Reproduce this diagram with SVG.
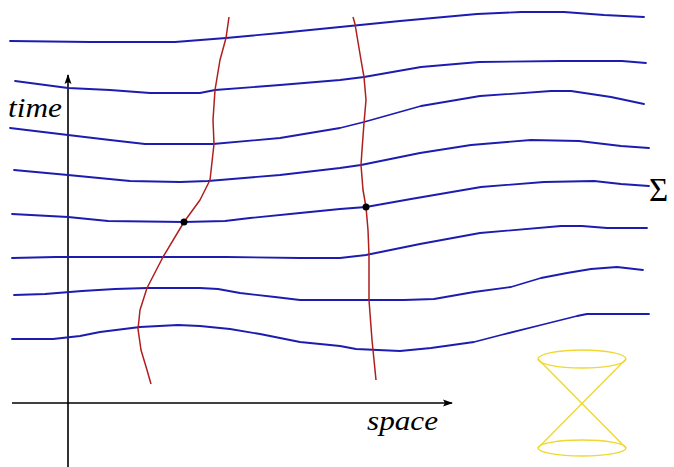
<svg xmlns="http://www.w3.org/2000/svg" width="674" height="467" viewBox="0 0 674 467">
<style>
.slice{fill:none;stroke:#1c1cb0;stroke-width:1.8;stroke-linejoin:round;stroke-linecap:round}
.world{fill:none;stroke:#b01e1e;stroke-width:1.5;stroke-linejoin:round}
.axis{fill:none;stroke:#000;stroke-width:1.6}
.lbl{font-family:"Liberation Serif","Times New Roman",serif;font-style:italic;fill:#000}
.cone{fill:none;stroke:#f0d830;stroke-width:1.4}
</style>
<defs>
<marker id="arr" viewBox="0 0 10 10" refX="9" refY="5" markerWidth="10" markerHeight="10" markerUnits="userSpaceOnUse" orient="auto">
<path d="M0,1.5 L10,5 L0,8.5 L2,5 Z" fill="#000"/>
</marker>
</defs>
<rect width="674" height="467" fill="#fff"/>
<g id="axes">
<line class="axis" x1="68" y1="467" x2="68" y2="75" marker-end="url(#arr)"/>
<line class="axis" x1="12" y1="403" x2="452" y2="403" marker-end="url(#arr)"/>
</g>
<g id="slices">
<polyline class="slice" points="10,41 90,42 175,42 226,38 280,33 340,27 400,21 477,14 521,12 564,12 604,15 644,17"/>
<polyline class="slice" points="15,81 68,88 110,90 150,93 200,93 215,90 280,85 340,80 364,77 421,67 479,62 561,61 622,61 646,63"/>
<polyline class="slice" points="10,128 68,135 110,140 145,144 213,144 280,138 340,128 364,122 421,106 480,96 551,91 571,91 611,97 644,104"/>
<polyline class="slice" points="14,170 68,175 130,181 180,182 208,181 280,175 340,168 361,165 420,153 471,145 531,140 579,141 621,146 649,148"/>
<polyline class="slice" points="12,214 68,217 108,221 184,222 225,221 250,218 300,213 340,209 366,207 411,199 481,187 544,182 594,181 621,184 649,186"/>
<polyline class="slice" points="12,258 56,257 226,257 300,258 340,258 366,255 420,244 480,233 561,226 582,226 607,228 647,228"/>
<polyline class="slice" points="14,295 45,294 82,291 115,289 147,288 200,288 218,289 240,293 275,297 300,300 340,300 404,300 434,299 474,292 511,287 541,278 567,273 591,269 617,267 643,270"/>
<polyline class="slice" points="12,339 53,339 80,336 100,332 140,327 178,325 200,326 230,329 260,334 300,342 340,346 356,349 400,351 431,348 474,342 501,335 541,325 577,316 587,314 649,314"/>
</g>
<g id="worldline1">
<polyline class="world" points="229,17 226,38 220,60 215,90 213,120 214,144 210,180 200,200 184,222 163,257 147,288 140,310 138,329 141,350 147,370 151,384"/>
<circle cx="184" cy="222" r="3.5" fill="#000"/>
</g>
<g id="worldline2">
<polyline class="world" points="353,17 355,24 361,60 364,77 366,100 364,123 362,150 361,165 363,190 366,207 368,230 369,255 369,300 372,340 375,370 376,380"/>
<circle cx="366" cy="207" r="3.5" fill="#000"/>
</g>
<g id="lightcone">
<ellipse class="cone" cx="582" cy="359" rx="44" ry="9"/>
<ellipse class="cone" cx="582" cy="448" rx="44" ry="8"/>
<line class="cone" x1="538" y1="359" x2="626" y2="448"/>
<line class="cone" x1="626" y1="359" x2="538" y2="448"/>
</g>
<g id="labels">
<text class="lbl" x="8" y="117" font-size="27" textLength="54" lengthAdjust="spacingAndGlyphs">time</text>
<text class="lbl" x="367" y="430" font-size="27" textLength="71" lengthAdjust="spacingAndGlyphs">space</text>
<text x="649" y="201" font-family="'Liberation Serif','Times New Roman',serif" font-size="33" fill="#000">Σ</text>
</g>
</svg>
